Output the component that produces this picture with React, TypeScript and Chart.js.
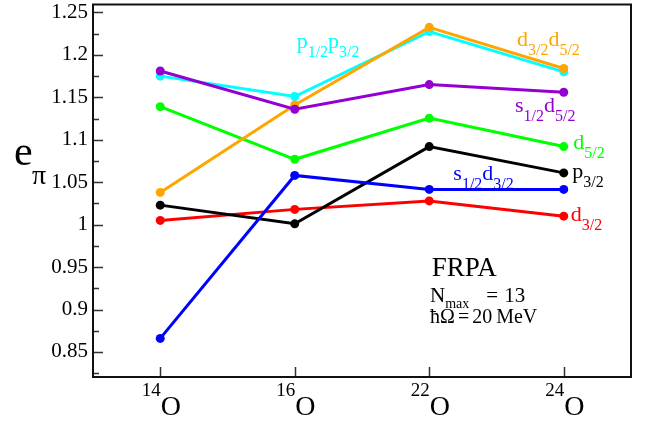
import React, { useEffect, useRef } from "react";
import { Chart, registerables } from "chart.js";

Chart.register(...registerables);

// ---- data ----
const massNumbers = ["14", "16", "22", "24"];
const element = "O";
const d32 = [1.005, 1.018, 1.028, 1.01];
const p32 = [1.023, 1.001, 1.092, 1.061];
const s12d32 = [0.866, 1.058, 1.0415, 1.0415];
const d52 = [1.139, 1.077, 1.1255, 1.092];
const p12p32 = [1.175, 1.151, 1.2275, 1.18];
const d32d52 = [1.038, 1.141, 1.2325, 1.184];
const s12d52 = [1.181, 1.136, 1.165, 1.156];

const yMin = 0.8205;
const yMax = 1.2594;

const FONT = "'Liberation Serif', 'Times New Roman', serif";

type Seg = { t: string; sub?: boolean; pad?: number };
type Lbl = { x: number; y: number; color: string; segs: Seg[] };

const seriesLabels: Lbl[] = [
  { x: 1.014, y: 1.2083, color: "#00ffff", segs: [{ t: "p" }, { t: "1/2", sub: true }, { t: "p" }, { t: "3/2", sub: true }] },
  { x: 2.652, y: 1.2106, color: "#ffa500", segs: [{ t: "d" }, { t: "3/2", sub: true }, { t: "d" }, { t: "5/2", sub: true }] },
  { x: 2.637, y: 1.1324, color: "#9400d3", segs: [{ t: "s" }, { t: "1/2", sub: true }, { t: "d" }, { t: "5/2", sub: true }] },
  { x: 3.071, y: 1.0895, color: "#00ff00", segs: [{ t: "d" }, { t: "5/2", sub: true }] },
  { x: 3.064, y: 1.0545, color: "#000000", segs: [{ t: "p" }, { t: "3/2", sub: true }] },
  { x: 2.179, y: 1.0526, color: "#0000ff", segs: [{ t: "s" }, { t: "1/2", sub: true }, { t: "d" }, { t: "3/2", sub: true }] },
  { x: 3.052, y: 1.0039, color: "#ff0000", segs: [{ t: "d" }, { t: "3/2", sub: true }] },
];

const mk = (label: string, vals: number[], color: string, order: number) => ({
  label,
  data: vals.map((v, i) => ({ x: i, y: v })),
  borderColor: color,
  backgroundColor: color,
  borderWidth: 3,
  pointRadius: 4.5,
  pointHoverRadius: 4.5,
  pointBorderWidth: 0,
  tension: 0,
  order,
});

function drawSegs(ctx: CanvasRenderingContext2D, x: number, y: number, segs: Seg[], main: number, sub: number, drop: number) {
  let cx = x;
  for (const s of segs) {
    cx += s.pad || 0;
    ctx.font = `${s.sub ? sub : main}px ${FONT}`;
    ctx.fillText(s.t, cx, s.sub ? y + drop : y);
    cx += ctx.measureText(s.t).width;
  }
}

const decorPlugin = {
  id: "decor",
  afterDraw(chart: any) {
    const ctx: CanvasRenderingContext2D = chart.ctx;
    const { left, right, top, bottom } = chart.chartArea;
    const xs = chart.scales.x;
    const ys = chart.scales.y;
    ctx.save();
    // ticks
    ctx.strokeStyle = "#333";
    ctx.lineWidth = 1.5;
    ctx.beginPath();
    for (const t of ys.ticks) {
      const py = Math.round(ys.getPixelForValue(t.value)) + 0.5;
      const major = Math.abs(Math.round(t.value * 1000) % 50) < 1;
      ctx.moveTo(left, py);
      ctx.lineTo(left + (major ? 10 : 6), py);
    }
    massNumbers.forEach((_, i) => {
      const px = Math.round(xs.getPixelForValue(i)) + 0.5;
      ctx.moveTo(px, bottom);
      ctx.lineTo(px, bottom - 10);
    });
    ctx.stroke();
    // frame
    ctx.strokeStyle = "#111";
    ctx.lineWidth = 2;
    ctx.strokeRect(left, top, right - left, bottom - top);

    // x labels
    ctx.fillStyle = "#000";
    ctx.textBaseline = "alphabetic";
    ctx.textAlign = "left";
    massNumbers.forEach((m, i) => {
      const px = xs.getPixelForValue(i);
      ctx.font = `19px ${FONT}`;
      const wm = ctx.measureText(m).width;
      ctx.font = `28px ${FONT}`;
      const wo = ctx.measureText(element).width;
      const x0 = px - (wm + wo) / 2 + 1;
      ctx.font = `19px ${FONT}`;
      ctx.fillText(m, x0, bottom + 19);
      ctx.font = `28px ${FONT}`;
      ctx.fillText(element, x0 + wm, bottom + 38);
    });

    // y axis title
    const ty = ys.getPixelForValue(1.0705);
    ctx.font = `42px ${FONT}`;
    ctx.fillText("e", 14, ty);
    ctx.font = `28px ${FONT}`;
    ctx.fillText("\u03c0", 32, ty + 19);

    // series labels
    for (const l of seriesLabels) {
      ctx.fillStyle = l.color;
      drawSegs(ctx, xs.getPixelForValue(l.x), ys.getPixelForValue(l.y), l.segs, 22, 16, 9);
    }

    // annotation
    ctx.fillStyle = "#000";
    ctx.font = `27px ${FONT}`;
    ctx.fillText("FRPA", xs.getPixelForValue(2.018), ys.getPixelForValue(0.9396));
    drawSegs(ctx, xs.getPixelForValue(2.006), ys.getPixelForValue(0.9093),
      [{ t: "N" }, { t: "max", sub: true }, { t: "=", pad: 17 }, { t: "13", pad: 6 }], 21, 14, 6);
    drawSegs(ctx, xs.getPixelForValue(2.006), ys.getPixelForValue(0.8848) + 1,
      [{ t: "\u0127\u03a9" }, { t: "=", pad: 3 }, { t: "20", pad: 3 }, { t: "MeV", pad: 4 }], 20, 14, 6);
    ctx.restore();
  },
};

export default function App() {
  const ref = useRef<HTMLCanvasElement | null>(null);
  useEffect(() => {
    if (!ref.current) return;
    const chart = new Chart(ref.current, {
      type: "line",
      data: {
        datasets: [
          mk("d3/2", d32, "#ff0000", 7),
          mk("p3/2", p32, "#000000", 6),
          mk("s1/2d3/2", s12d32, "#0000ff", 5),
          mk("d5/2", d52, "#00ff00", 4),
          mk("p1/2p3/2", p12p32, "#00ffff", 3),
          mk("d3/2d5/2", d32d52, "#ffa500", 2),
          mk("s1/2d5/2", s12d52, "#9400d3", 1),
        ] as any,
      },
      options: {
        animation: false,
        responsive: false,
        devicePixelRatio: 1,
        layout: { padding: { left: 0, right: 25, top: 1, bottom: 44 } },
        plugins: { legend: { display: false }, tooltip: { enabled: false } },
        events: [],
        scales: {
          x: {
            type: "linear",
            min: -0.5,
            max: 3.5,
            display: false,
          },
          y: {
            type: "linear",
            min: yMin,
            max: yMax,
            grid: { display: false, drawTicks: false },
            border: { display: false },
            ticks: {
              stepSize: 0.025,
              includeBounds: false,
              autoSkip: false,
              padding: 5,
              color: "#000",
              font: { family: FONT, size: 21 },
              callback: (v: any) => {
                const n = Number(v);
                if (Math.abs(Math.round(n * 1000) % 50) >= 1) return "";
                return String(+n.toFixed(3));
              },
            },
            afterFit: (s: any) => {
              s.width = 93;
              s.paddingTop = 0;
              s.paddingBottom = 0;
            },
          },
        },
      },
      plugins: [decorPlugin],
    });
    return () => chart.destroy();
  }, []);
  return (
    <div style={{ position: "absolute", left: 0, top: 0, width: 656, height: 421 }}>
      <canvas ref={ref} width={656} height={421} style={{ display: "block" }} />
    </div>
  );
}
